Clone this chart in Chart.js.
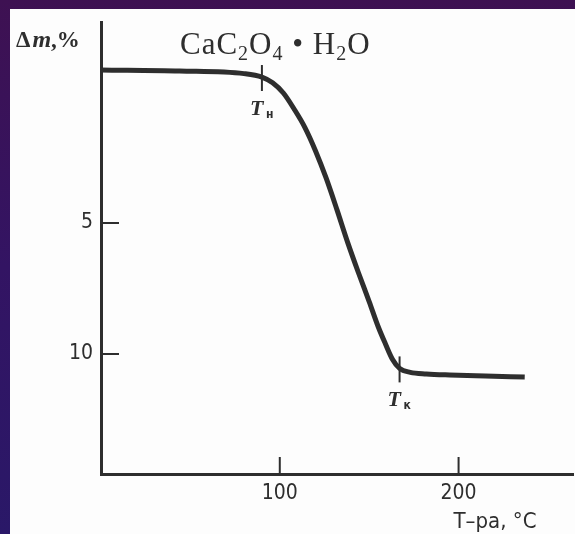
<!DOCTYPE html>
<html>
<head>
<meta charset="utf-8">
<script src="https://cdn.jsdelivr.net/npm/chart.js@4"></script>
<style>
  html, body { margin: 0; padding: 0; }
  body {
    width: 575px; height: 534px; overflow: hidden; position: relative;
    background: linear-gradient(to bottom, #3e1152 0%, #331463 50%, #2a1868 100%);
  }
  #paper { position: absolute; left: 10px; top: 9px; right: 0; bottom: 0; background: #fdfdfd; }
  #chart { position: absolute; left: 0; top: 0; }
</style>
</head>
<body>
<div id="paper"></div>
<canvas id="chart" width="575" height="534"></canvas>
<script>
// temperature, °C
const tempC = [0, 44, 80, 90, 96, 102, 108, 114, 120, 126, 132, 138, 144, 150, 155, 159, 163, 167, 173, 182, 195, 215, 237];
// mass loss, %
const massLoss = [-0.84, -0.8, -0.7, -0.57, -0.35, 0.04, 0.65, 1.35, 2.25, 3.3, 4.5, 5.75, 6.9, 8.0, 8.95, 9.6, 10.2, 10.55, 10.7, 10.76, 10.8, 10.84, 10.88];

const xTicks = [100, 200];
const yTicks = [5, 10];

// marks on the curve: start and end of dehydration
const markNames = ['н', 'к'];
const markTemps = [90, 167];
const markMass = [-0.57, 10.55];

const ink = '#2e2e2e';
const narrow = "'Liberation Sans Narrow', 'DejaVu Sans Condensed', 'Liberation Sans', sans-serif";
const serif = "'Liberation Serif', 'DejaVu Serif', serif";

const labelsPlugin = {
    id: 'labels',
    afterDraw: function(chart) {
        const ctx = chart.ctx;
        const xs = chart.scales.x, ys = chart.scales.y;
        ctx.save();
        ctx.strokeStyle = ink;
        ctx.fillStyle = ink;
        ctx.lineWidth = 2;

        // tick marks pointing inside
        yTicks.forEach(v => {
            const py = ys.getPixelForValue(v);
            ctx.beginPath(); ctx.moveTo(xs.left, py); ctx.lineTo(xs.left + 18, py); ctx.stroke();
        });
        xTicks.forEach(v => {
            const px = xs.getPixelForValue(v);
            ctx.beginPath(); ctx.moveTo(px, ys.bottom); ctx.lineTo(px, ys.bottom - 17); ctx.stroke();
        });

        // T_н / T_к crossings and labels
        markTemps.forEach((t, i) => {
            const px = xs.getPixelForValue(t), py = ys.getPixelForValue(markMass[i]);
            ctx.beginPath(); ctx.moveTo(px, py - 12); ctx.lineTo(px, py + 14); ctx.stroke();
            ctx.textBaseline = 'alphabetic';
            ctx.textAlign = 'left';
            ctx.font = 'italic bold 22px ' + serif;
            ctx.fillText('T', px - 12, py + 38);
            ctx.font = 'bold 12px ' + narrow;
            ctx.fillText(markNames[i], px + 4, py + 41);
        });

        // title CaC2O4 • H2O
        let x = 180;
        const base = 54;
        const parts = [['CaC', 0], ['2', 1], ['O', 0], ['4', 1], [' • H', 0], ['2', 1], ['O', 0]];
        ctx.textAlign = 'left';
        ctx.letterSpacing = '1px';
        parts.forEach(p => {
            ctx.font = p[1] ? '20px ' + serif : '31px ' + serif;
            ctx.fillText(p[0], x, base + (p[1] ? 6 : 0));
            x += ctx.measureText(p[0]).width;
        });
        ctx.letterSpacing = '0px';

        // y title Δm,%
        x = 16;
        ctx.font = 'bold 23px ' + serif;
        ctx.fillText('Δ', x, 47); x += ctx.measureText('Δ').width + 2;
        ctx.font = 'italic bold 24px ' + serif;
        ctx.fillText('m', x, 47); x += ctx.measureText('m').width;
        ctx.font = 'bold 23px ' + serif;
        ctx.fillText(',%', x, 47);

        // x title
        ctx.font = '22px ' + narrow;
        ctx.textAlign = 'center';
        ctx.fillText('T\u2013pa, °C', 495, 528);
        ctx.restore();
    }
};

new Chart(document.getElementById('chart'), {
    type: 'line',
    data: {
        datasets: [{
            data: tempC.map((t, i) => ({ x: t, y: massLoss[i] })),
            borderColor: ink,
            borderWidth: 5,
            pointRadius: 0,
            cubicInterpolationMode: 'monotone',
            fill: false
        }]
    },
    options: {
        responsive: false,
        animation: false,
        devicePixelRatio: 1,
        layout: { padding: { top: 22, right: 2, left: 0, bottom: 0 } },
        plugins: { legend: { display: false }, tooltip: { enabled: false } },
        scales: {
            x: {
                type: 'linear', min: 0, max: 264,
                afterBuildTicks: s => { s.ticks = xTicks.map(v => ({ value: v })); },
                afterFit: s => { s.height = 60; },
                grid: { display: false, drawTicks: false },
                border: { display: true, color: ink, width: 3 },
                ticks: { color: ink, padding: 7, font: { family: narrow, size: 21 } }
            },
            y: {
                type: 'linear', min: -2.67, max: 14.58, reverse: true,
                afterBuildTicks: s => { s.ticks = yTicks.map(v => ({ value: v })); },
                afterFit: s => { s.width = 101; },
                grid: { display: false, drawTicks: false },
                border: { display: true, color: ink, width: 3 },
                ticks: { color: ink, padding: 8, font: { family: narrow, size: 21 } }
            }
        }
    },
    plugins: [labelsPlugin]
});
</script>
</body>
</html>
